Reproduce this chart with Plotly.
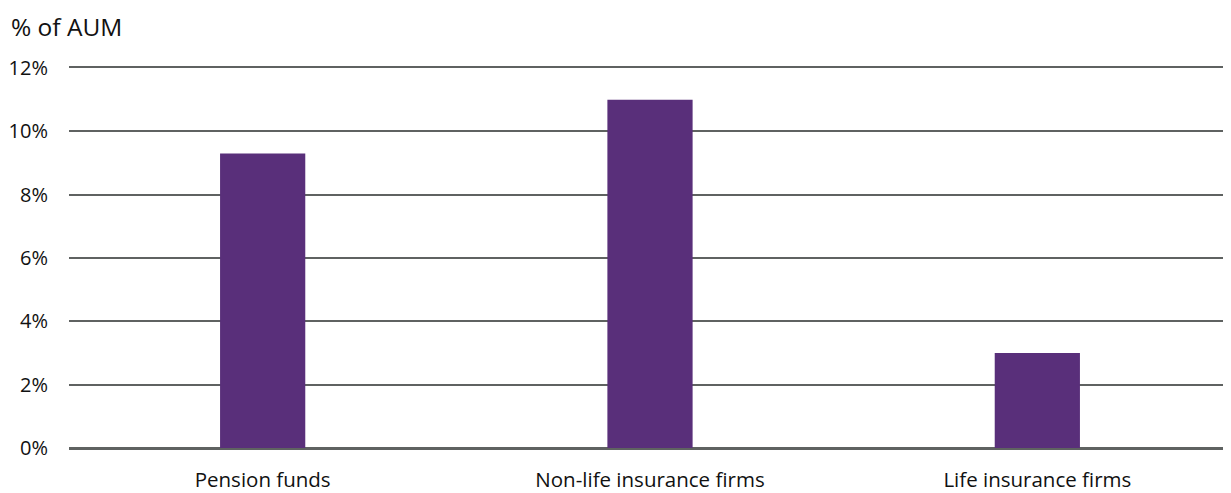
import plotly.graph_objects as go

categories = ["Pension funds", "Non-life insurance firms", "Life insurance firms"]
values = [9.3, 11.0, 3.0]
tick_vals = [0, 2, 4, 6, 8, 10, 12]
tick_text = ["0%", "2%", "4%", "6%", "8%", "10%", "12%"]

FONT = "Open Sans, Liberation Sans, sans-serif"
GRID = "#5f6261"

fig = go.Figure(
    go.Bar(x=categories, y=values, marker=dict(color="#592f7a", line=dict(width=0)), width=0.22)
)

# page body has an 8px margin, so the figure is sized/offset accordingly
fig.update_layout(
    width=1223, height=485,
    margin=dict(l=61, r=0, t=60, b=41),
    plot_bgcolor="white", paper_bgcolor="white",
    showlegend=False,
    font=dict(family=FONT, size=20, color="#111111"),
    annotations=[dict(text="% of AUM", xref="paper", yref="paper", x=-59/1162, y=1 + 60/384,
                      xanchor="left", yanchor="top", showarrow=False, borderpad=0,
                      font=dict(family=FONT, size=24.5, color="#111111"))],
)
fig.update_yaxes(range=[0, 12], tickvals=tick_vals, ticktext=tick_text,
                 showgrid=True, gridcolor=GRID, gridwidth=1.5,
                 zeroline=True, zerolinecolor=GRID, zerolinewidth=1.5,
                 ticks="", ticklabelstandoff=20, showline=False, fixedrange=True,
                 tickfont=dict(family=FONT, size=20))
fig.update_xaxes(showgrid=False, ticks="", ticklabelstandoff=13,
                 showline=True, mirror=True, linecolor=GRID, linewidth=1.5,
                 tickfont=dict(family=FONT, size=20.5))

fig.write_html("out.html")
